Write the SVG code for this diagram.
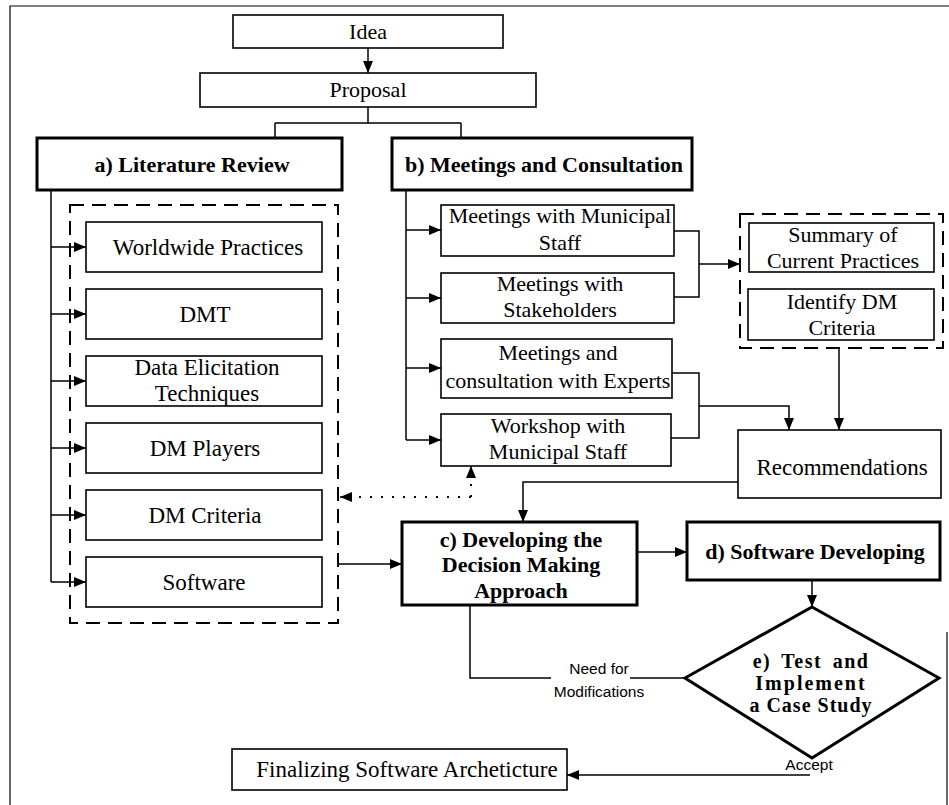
<svg xmlns="http://www.w3.org/2000/svg" width="949" height="805" viewBox="0 0 949 805">
  <style>
    .box { fill: #fff; stroke: #000; stroke-width: 1.6; }
    .main { fill: #fff; stroke: #000; stroke-width: 3; }
    .group { fill: none; stroke: #000; stroke-width: 2; stroke-dasharray: 14 8; }
    .frame { fill: none; stroke: #000; stroke-width: 1.2; }
    .ln { fill: none; stroke: #000; stroke-width: 1.5; }
    .dot { fill: none; stroke: #000; stroke-width: 2; stroke-dasharray: 2 9; }
    .t { font-family: "Liberation Serif", "Times New Roman", serif; font-size: 22px; text-anchor: middle; fill: #000; }
    .tl { font-size: 23px; }
    .b { font-family: "Liberation Serif", "Times New Roman", serif; font-size: 22px; font-weight: bold; text-anchor: middle; fill: #000; }
    .dm { font-size: 20px; }
    .s { font-family: "Liberation Sans", Arial, sans-serif; font-size: 15.5px; text-anchor: middle; fill: #000; }
  </style>
  <defs>
    <marker id="arr" markerUnits="userSpaceOnUse" markerWidth="13" markerHeight="11" refX="12" refY="5" orient="auto">
      <path d="M0,0 L12,5 L0,10 z" fill="#000"/>
    </marker>
  </defs>

  <rect width="949" height="805" fill="#fff"/>

  <!-- page frame -->
  <path class="frame" d="M10,805 V6 H949"/>
  <path class="frame" d="M947,632 V805"/>

  <!-- dashed groupings -->
  <rect class="group" x="70" y="205" width="268" height="418"/>
  <rect class="group" x="740" y="214" width="203" height="134"/>

  <!-- connectors -->
  <g id="connectors">
    <path class="ln" d="M368,48 V73" marker-end="url(#arr)"/>
    <path class="ln" d="M368,107 V123 M275,123 H461 M275,123 V138 M461,123 V138"/>

    <!-- literature review branches -->
    <path class="ln" d="M51,190 V582"/>
    <path class="ln" d="M51,247 H86" marker-end="url(#arr)"/>
    <path class="ln" d="M51,314 H86" marker-end="url(#arr)"/>
    <path class="ln" d="M51,381 H86" marker-end="url(#arr)"/>
    <path class="ln" d="M51,448 H86" marker-end="url(#arr)"/>
    <path class="ln" d="M51,515 H86" marker-end="url(#arr)"/>
    <path class="ln" d="M51,582 H86" marker-end="url(#arr)"/>

    <!-- meetings branches -->
    <path class="ln" d="M406,190 V440"/>
    <path class="ln" d="M406,230 H441" marker-end="url(#arr)"/>
    <path class="ln" d="M406,298 H441" marker-end="url(#arr)"/>
    <path class="ln" d="M406,368 H441" marker-end="url(#arr)"/>
    <path class="ln" d="M406,440 H441" marker-end="url(#arr)"/>

    <!-- meetings to summary group -->
    <path class="ln" d="M674,231 H699 V297 H674"/>
    <path class="ln" d="M699,264 H740" marker-end="url(#arr)"/>

    <!-- experts / workshop to recommendations -->
    <path class="ln" d="M672,373 H699 V438 H671"/>
    <path class="ln" d="M699,406 H789 V430" marker-end="url(#arr)"/>
    <path class="ln" d="M839,348 V430" marker-end="url(#arr)"/>

    <!-- recommendations to c -->
    <path class="ln" d="M738,482 H523 V522" marker-end="url(#arr)"/>

    <!-- dotted feedback -->
    <path class="dot" d="M471,497 H350"/>
    <path class="ln" d="M352,497 H340" marker-end="url(#arr)"/>
    <path class="dot" d="M471,497 V480"/>
    <path class="ln" d="M471,478 V466" marker-end="url(#arr)"/>

    <!-- literature group to c -->
    <path class="ln" d="M338,564 H402" marker-end="url(#arr)"/>

    <!-- c to d, d to test -->
    <path class="ln" d="M637,552 H687" marker-end="url(#arr)"/>
    <path class="ln" d="M812,580 V607" marker-end="url(#arr)"/>

    <!-- modification loop -->
    <path class="ln" d="M470,605 V678 H551"/>
    <path class="ln" d="M630,678 H685"/>

    <!-- accept -->
    <path class="ln" d="M810,775 H567" marker-end="url(#arr)"/>
  </g>

  <g id="idea">
    <rect class="box" x="233" y="15" width="270" height="33"/>
    <text class="t" x="368" y="39">Idea</text>
  </g>
  <g id="proposal">
    <rect class="box" x="200" y="73" width="336" height="34"/>
    <text class="t" x="368" y="97">Proposal</text>
  </g>

  <g id="literature-review">
    <rect class="main" x="37" y="138" width="305" height="52"/>
    <text class="b" x="192" y="172">a) Literature Review</text>
  </g>
  <g id="meetings-consultation">
    <rect class="main" x="392" y="138" width="300" height="52"/>
    <text class="b" x="544" y="172">b) Meetings and Consultation</text>
  </g>

  <g id="worldwide-practices">
    <rect class="box" x="86" y="222" width="236" height="50"/>
    <text class="t tl" x="208" y="255">Worldwide Practices</text>
  </g>
  <g id="dmt">
    <rect class="box" x="86" y="289" width="236" height="50"/>
    <text class="t tl" x="205" y="322">DMT</text>
  </g>
  <g id="data-elicitation">
    <rect class="box" x="86" y="356" width="236" height="50"/>
    <text class="t tl" x="207" y="375">Data Elicitation</text>
    <text class="t tl" x="207" y="401">Techniques</text>
  </g>
  <g id="dm-players">
    <rect class="box" x="86" y="423" width="236" height="50"/>
    <text class="t tl" x="205" y="456">DM Players</text>
  </g>
  <g id="dm-criteria">
    <rect class="box" x="86" y="490" width="236" height="50"/>
    <text class="t tl" x="205" y="523">DM Criteria</text>
  </g>
  <g id="software">
    <rect class="box" x="86" y="557" width="236" height="50"/>
    <text class="t tl" x="204" y="590">Software</text>
  </g>

  <g id="meetings-municipal">
    <rect class="box" x="441" y="205" width="233" height="51"/>
    <text class="t" x="560" y="223">Meetings with Municipal</text>
    <text class="t" x="560" y="250">Staff</text>
  </g>
  <g id="meetings-stakeholders">
    <rect class="box" x="441" y="273" width="233" height="50"/>
    <text class="t" x="560" y="291">Meetings with</text>
    <text class="t" x="560" y="317">Stakeholders</text>
  </g>
  <g id="meetings-experts">
    <rect class="box" x="441" y="339" width="231" height="59"/>
    <text class="t" x="558" y="360">Meetings and</text>
    <text class="t" x="558" y="388">consultation with Experts</text>
  </g>
  <g id="workshop">
    <rect class="box" x="441" y="414" width="230" height="52"/>
    <text class="t" x="558" y="433">Workshop with</text>
    <text class="t" x="558" y="459">Municipal Staff</text>
  </g>

  <g id="summary-practices">
    <rect class="box" x="749" y="223" width="185" height="49"/>
    <text class="t" x="843" y="242">Summary of</text>
    <text class="t" x="843" y="268">Current Practices</text>
  </g>
  <g id="identify-criteria">
    <rect class="box" x="748" y="289" width="186" height="51"/>
    <text class="t" x="842" y="309">Identify DM</text>
    <text class="t" x="842" y="335">Criteria</text>
  </g>

  <g id="recommendations">
    <rect class="box" x="738" y="430" width="203" height="68"/>
    <text class="t tl" x="842" y="475">Recommendations</text>
  </g>

  <g id="developing-approach">
    <rect class="main" x="402" y="522" width="235" height="83"/>
    <text class="b" x="521" y="547">c) Developing the</text>
    <text class="b" x="521" y="572">Decision Making</text>
    <text class="b" x="521" y="598">Approach</text>
  </g>
  <g id="software-developing">
    <rect class="main" x="687" y="522" width="253" height="58"/>
    <text class="b" x="815" y="559">d) Software Developing</text>
  </g>

  <g id="test-implement">
    <polygon points="812,607 939,678 812,758 685,678" fill="#fff" stroke="#000" stroke-width="3"/>
    <text class="b dm" x="811" y="668" letter-spacing="1.5" word-spacing="4">e) Test and</text>
    <text class="b dm" x="811" y="690" letter-spacing="2">Implement</text>
    <text class="b dm" x="811" y="712" letter-spacing="1">a Case Study</text>
  </g>

  <text class="s" x="599" y="674">Need for</text>
  <text class="s" x="599" y="697">Modifications</text>
  <text class="s" x="809" y="770">Accept</text>

  <g id="finalizing">
    <rect class="box" x="232" y="749" width="335" height="41"/>
    <text class="t tl" x="407" y="777">Finalizing Software Archeticture</text>
  </g>
</svg>
